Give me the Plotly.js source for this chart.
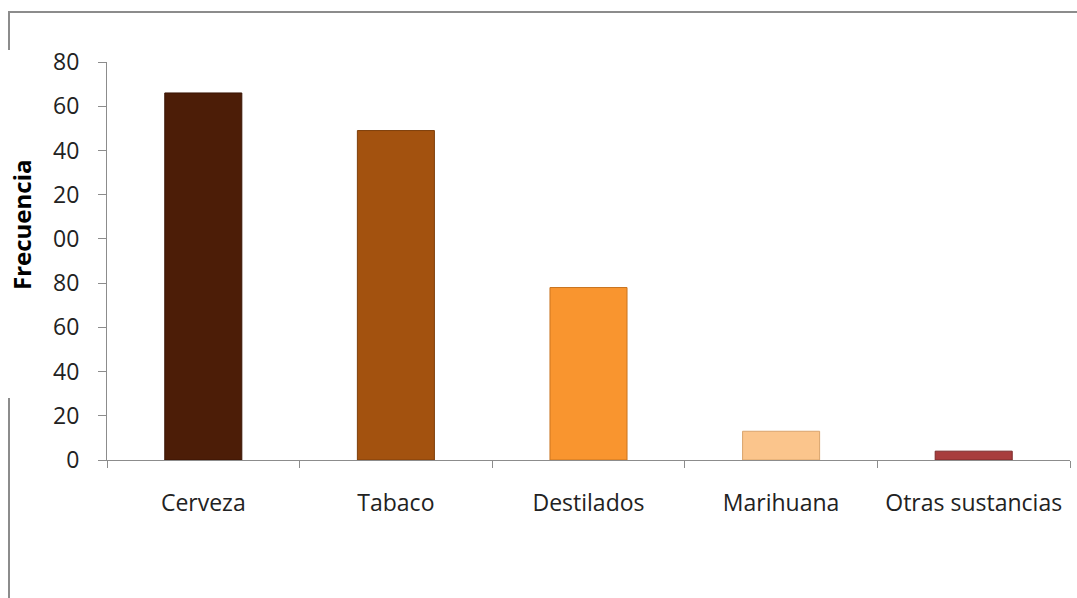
<!DOCTYPE html>
<html>
<head>
<meta charset="utf-8">
<script src="https://cdn.plot.ly/plotly-3.0.1.min.js"></script>
<style>html,body{margin:0;padding:0;background:#fff;}#chart{width:1077px;height:598px;}</style>
</head>
<body>
<div id="chart"></div>
<script>
var categories = ['Cerveza', 'Tabaco', 'Destilados', 'Marihuana', 'Otras sustancias'];
var frecuencia = [166, 149, 78, 13, 4];
var barColors = ['#4c1d07', '#a3520f', '#f9952f', '#fbc58c', '#a83d3d'];
var barLines = ['#3a1505', '#7e3f0b', '#c97420', '#d9a46c', '#7a2a2a'];
var tickVals = [0, 20, 40, 60, 80, 100, 120, 140, 160, 180];
var tickText = ['0', '20', '40', '60', '80', '00', '20', '40', '60', '80'];
var yTitle = 'Frecuencia';

var W = 1077, H = 598, L = 107, R = 7, T = 62, B = 138;
var pw = W - L - R, ph = H - T - B;
function px(x) { return (x - L) / pw; }
function py(y) { return (H - B - y) / ph; }

var trace = {
  type: 'bar',
  x: categories,
  y: frecuencia,
  width: 0.4,
  marker: { color: barColors, line: { color: barLines, width: 1 } },
  hoverinfo: 'x+y'
};

var frameColor = '#8c8c8c';
var layout = {
  width: W, height: H,
  margin: { l: L, r: R, t: T, b: B, pad: 0 },
  paper_bgcolor: '#ffffff',
  plot_bgcolor: '#ffffff',
  showlegend: false,
  bargap: 0.6,
  font: { family: 'Open Sans, sans-serif', color: '#222222' },
  xaxis: {
    showline: true, linecolor: '#8c8c8c', linewidth: 1,
    ticks: 'outside', tickson: 'boundaries', ticklen: 7, tickcolor: '#8c8c8c',
    ticklabelstandoff: 22,
    tickfont: { size: 23, color: '#222222' },
    showgrid: false, zeroline: false, fixedrange: true
  },
  yaxis: {
    range: [0, 180],
    tickmode: 'array', tickvals: tickVals, ticktext: tickText,
    showline: true, linecolor: '#8c8c8c', linewidth: 1,
    ticks: 'outside', ticklen: 8, tickcolor: '#8c8c8c',
    ticklabelstandoff: 14,
    tickfont: { size: 23, color: '#222222' },
    showgrid: false, zeroline: false, fixedrange: true
  },
  annotations: [{
    text: '<b>' + yTitle + '</b>', textangle: -90,
    xref: 'paper', yref: 'paper', x: px(21), y: py(225),
    xanchor: 'center', yanchor: 'middle', showarrow: false,
    font: { size: 24, color: '#000000', family: 'Open Sans, sans-serif' }
  }],
  shapes: [
    { type: 'line', xref: 'paper', yref: 'paper', x0: px(9), x1: px(1077), y0: py(12), y1: py(12), line: { color: frameColor, width: 2 } },
    { type: 'line', xref: 'paper', yref: 'paper', x0: px(9), x1: px(9), y0: py(11), y1: py(50), line: { color: frameColor, width: 2 } },
    { type: 'line', xref: 'paper', yref: 'paper', x0: px(9), x1: px(9), y0: py(398), y1: py(598), line: { color: frameColor, width: 2 } }
  ]
};

Plotly.newPlot('chart', [trace], layout, { displayModeBar: false, staticPlot: true });
</script>
</body>
</html>
